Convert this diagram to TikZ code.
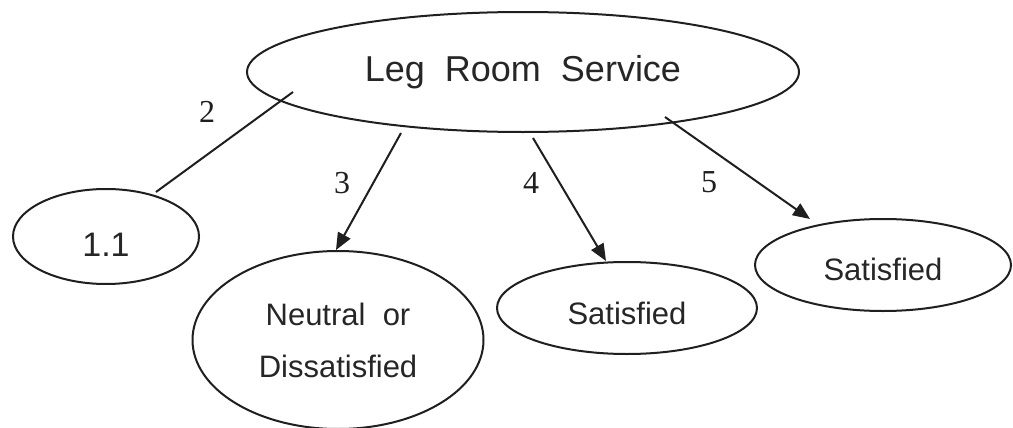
\documentclass[tikz,border=0pt]{standalone}
\usepackage{fontspec}
\setmainfont{Liberation Sans}
\newfontfamily\numfont{Liberation Serif}
\usetikzlibrary{shapes.geometric,arrows.meta,calc}
\begin{document}
\begin{tikzpicture}[x=0.5pt,y=-0.5pt,
  ell/.style={draw=black!88,line width=1pt,ellipse,inner sep=0pt},
  conn/.style={draw=black!88,line width=1pt},
  arr/.style={conn,-{Triangle[length=8.5pt,width=7pt]}},
  num/.style={font=\numfont\fontsize{16}{18}\selectfont,text=black!88},
  big/.style={font=\fontsize{18}{20}\selectfont,text=black!85},
  mid/.style={font=\fontsize{15.5}{26}\selectfont,text=black!85,align=center}]
\useasboundingbox (0,0) rectangle (1013,428);
\node[ell,big,minimum width=276pt,minimum height=60pt] (top) at (523,72) {Leg\ \ Room\ \ Service};
\node[ell,minimum width=93pt,minimum height=47.5pt,
  label={[big,font=\fontsize{17}{19}\selectfont,yshift=-4pt]center:1.1}] (n11) at (106,236.5) {};
\node[ell,mid,minimum width=145.5pt,minimum height=89pt] (neu) at (338,340) {Neutral\ \ or\\Dissatisfied};
\node[ell,minimum width=130pt,minimum height=46pt,
  label={[mid,yshift=-2.5pt]center:Satisfied}] (sat1) at (627,308) {};
\node[ell,minimum width=128pt,minimum height=46pt,
  label={[mid,yshift=-2pt]center:Satisfied}] (sat2) at (883,265) {};
\draw[conn] ($(top.center)+(-230,20)$) -- ($(n11.center)+(50,-44.5)$);
\draw[arr] ($(top.center)+(-122,61)$) -- ($(neu.center)+(-2,-90)$);
\draw[arr] ($(top.center)+(10,66)$) -- ($(sat1.center)+(-21,-47)$);
\draw[arr] ($(top.center)+(142,45)$) -- ($(sat2.center)+(-73,-46)$);
\node[num] (l2) at (207,112) {2};
\node[num] (l3) at (342,183) {3};
\node[num] (l4) at (531,183) {4};
\node[num] (l5) at (709,182) {5};
\end{tikzpicture}
\end{document}
